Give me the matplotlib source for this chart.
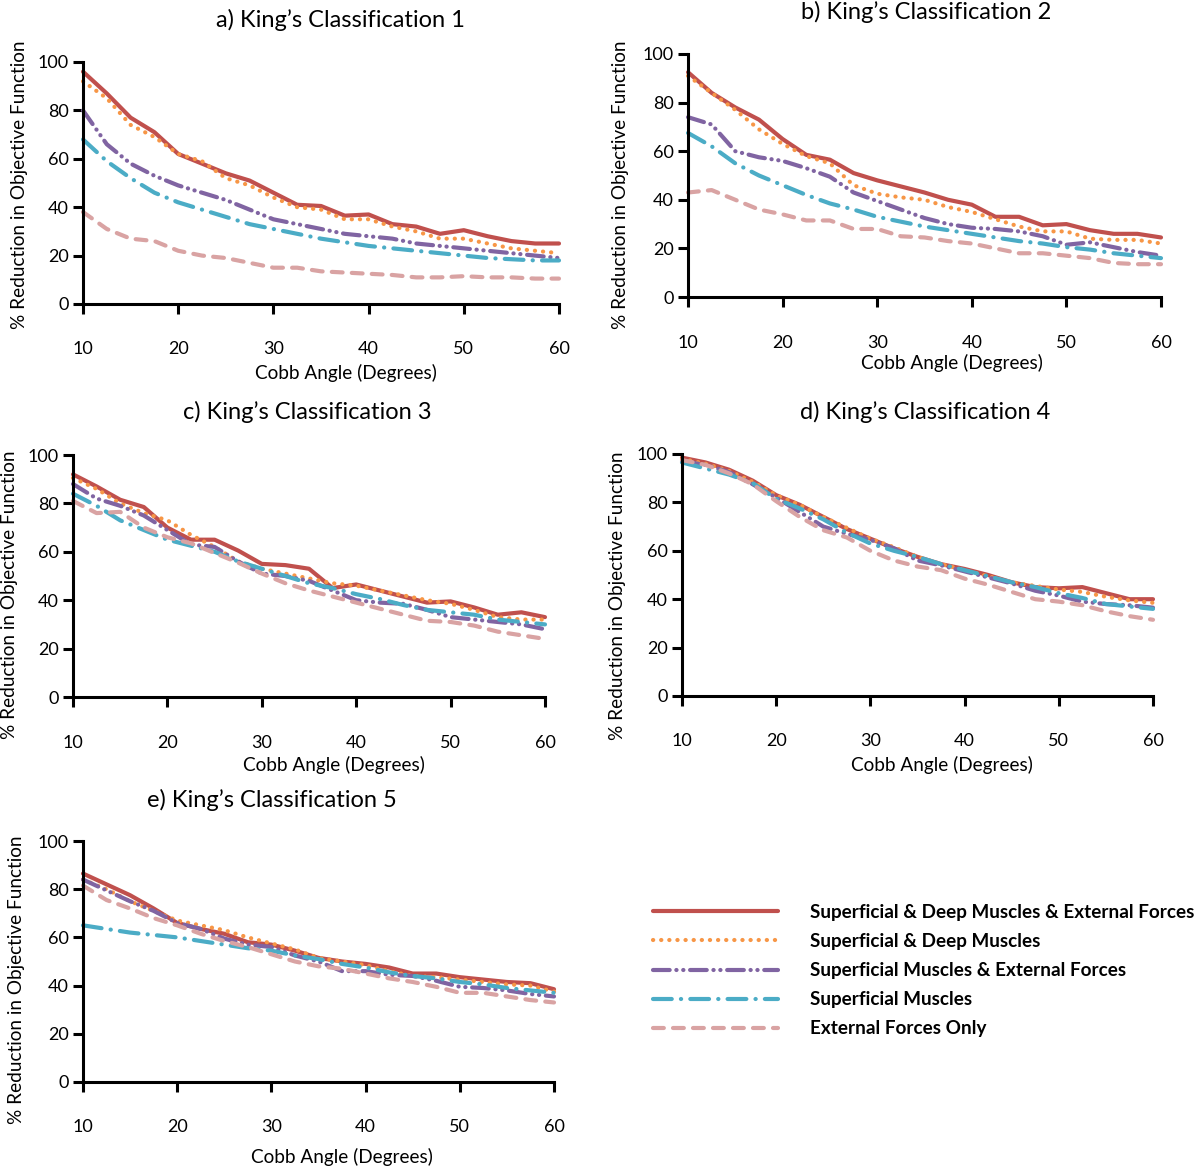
import numpy as np
import matplotlib.pyplot as plt

plt.rcParams['font.family'] = ['Lato', 'DejaVu Sans']

W, H = 1200, 1169

# Cobb angle grid (degrees)
cobb = np.arange(10, 60.1, 2.5)

labels = ['Superficial & Deep Muscles & External Forces',
          'Superficial & Deep Muscles',
          'Superficial Muscles & External Forces',
          'Superficial Muscles',
          'External Forces Only']

# a) King's Classification 1
a_sde = [96, 87, 77, 71, 62, 58, 54, 51, 46, 41, 40.5, 36.5, 37, 33, 32, 29, 30.5, 28, 26, 25, 25]
a_sd = [92, 85, 74, 69, 62, 59, 52, 49, 44, 40, 39, 35, 35, 32, 30, 27, 27, 25, 23, 22, 21]
a_se = [80, 66, 58, 53, 49, 46, 43, 39, 35, 33, 31, 29, 28, 27, 25, 24, 23, 22, 21, 20, 19]
a_s = [68, 59, 52, 46, 42, 39, 36, 33, 31, 29, 27, 25.5, 24, 23, 22, 21, 20, 19, 18.5, 18, 18]
a_e = [38, 31, 27, 26, 22, 20, 19, 17, 15, 15, 13.5, 13, 12.5, 12, 11, 11, 11.5, 11, 11, 10.5, 10.5]

# b) King's Classification 2
b_sde = [92.5, 84, 78, 73, 65, 58.5, 56.5, 51, 48, 45.5, 43, 40, 38, 33, 33, 29.5, 30, 27.5, 26, 26, 24.5]
b_sd = [91, 84, 77, 69, 63, 58, 55, 46, 42.5, 41, 40, 37, 35, 32, 29, 27, 27, 24, 23.5, 23.5, 22]
b_se = [74, 71, 60, 57.5, 56, 53, 49.5, 43, 39.5, 36, 32.5, 30, 28.5, 28, 27, 25, 21.5, 22.5, 20.5, 18.5, 17]
b_s = [67.5, 62, 55, 50, 46, 42, 38.5, 36, 33, 31, 29, 27.5, 26, 24.5, 23, 22, 20.5, 19.5, 18, 17, 16]
b_e = [43, 44, 40, 36, 34, 31.5, 31.5, 28, 28, 25, 24.5, 23, 22, 20, 18, 18, 17, 16, 14, 13.5, 13.5]

# c) King's Classification 3
c_sde = [92, 87, 81.5, 78.5, 70, 65, 65, 60.5, 55, 54.5, 53, 45, 46.5, 44, 41.5, 39, 39.5, 37, 34, 35, 33]
c_sd = [90.5, 86, 80, 76, 73, 67, 62, 56, 53, 51, 49, 47, 46, 44, 42, 40, 38.5, 36, 33, 32, 32]
c_se = [88, 82, 79, 75, 69, 63, 62, 56, 51, 50, 48, 44, 40, 39, 38.5, 36, 33, 32, 31, 30, 28]
c_s = [84, 79, 73, 69, 65, 62.5, 60, 56, 53, 50, 47, 45, 42.5, 40.5, 38, 36, 35, 34, 32, 31, 30]
c_e = [81, 76, 76.5, 70, 66, 63.5, 59.5, 55.5, 51, 47, 44, 41.5, 39, 36.5, 34, 31.5, 31, 29.5, 27, 25.5, 24]

# d) King's Classification 4
d_sde = [98.5, 96.5, 93.5, 89, 83, 79, 74, 69, 65, 61, 57.5, 54.5, 52.5, 50, 47, 45, 44.5, 45, 42.5, 40, 40]
d_sd = [98, 96, 93, 88.5, 83, 79, 74, 69.5, 65, 61.5, 57.5, 54.5, 52, 49.5, 47, 45.5, 44, 43, 41, 39.5, 38.5]
d_se = [97, 95.5, 92.5, 87.5, 82, 76, 70, 67, 64.5, 61, 56, 54, 51.5, 49, 46.5, 43.5, 41.5, 39, 38, 37.5, 36.5]
d_s = [96.5, 94, 91.5, 88, 81.5, 77.5, 73, 67.5, 63, 60, 57.5, 54.5, 52, 49.5, 47, 45, 42.5, 40.5, 38, 37, 36]
d_e = [97.5, 95.5, 92, 87.5, 80.5, 74, 68.5, 65.5, 60, 56, 53.5, 52, 48.5, 46, 43, 40, 39, 37.5, 35, 33, 31.5]

# e) King's Classification 5
e_sde = [86.5, 82, 77.5, 72, 66, 63.5, 61.5, 58, 57, 54.5, 51.5, 50, 49, 47.5, 45, 45, 43.5, 42.5, 41.5, 41, 38.5]
e_sd = [84, 80, 75, 71, 67, 65, 63, 60, 57.5, 55, 51.5, 50, 48.5, 46, 44, 43.5, 42.5, 41.5, 40.5, 40, 37.5]
e_se = [84, 79.5, 75, 71, 66, 63.5, 59.5, 57, 56, 52.5, 50, 46, 46, 44.5, 44, 42, 39.5, 39, 38, 36.5, 35.5]
e_s = [65, 63.5, 62, 61, 60, 58.5, 57, 55.5, 54.5, 52.5, 51, 49, 47.5, 45.5, 44, 43, 41.5, 40.5, 39, 38, 37]
e_e = [81.5, 75.5, 72, 68, 65, 61.5, 58.5, 56, 53, 50, 48, 47, 45, 43, 41.5, 39.5, 37, 37, 35.5, 34, 33]

panels = [
    ("a) King\u2019s Classification 1", [a_sde, a_sd, a_se, a_s, a_e]),
    ("b) King\u2019s Classification 2", [b_sde, b_sd, b_se, b_s, b_e]),
    ("c) King\u2019s Classification 3", [c_sde, c_sd, c_se, c_s, c_e]),
    ("d) King\u2019s Classification 4", [d_sde, d_sd, d_se, d_s, d_e]),
    ("e) King\u2019s Classification 5", [e_sde, e_sd, e_se, e_s, e_e]),
]

# pixel boxes: left, top, right, bottom ; title (x,y), xlabel (x,y), ylabel (x,y)
boxes = [
    ((83, 62, 559, 304), (340, 20), (346, 373), (20, 185)),
    ((688, 54, 1161, 297), (926, 12), (952, 363), (620, 185)),
    ((73, 455, 545, 697), (307, 412), (334, 765), (10, 595)),
    ((682, 454, 1153, 696), (925, 412), (942, 765), (617, 596)),
    ((83, 841, 554, 1082), (272, 800), (342, 1157), (17, 980)),
]

colors = ['#C0504D', '#F79646', '#8064A2', '#4BACC6', '#D9A3A3']
styles = ['-', (0, (0.05, 1.9)), (0, (4, 1.6, 0.05, 1.6, 0.05, 1.6)),
          (0, (4.5, 2.2, 0.05, 2.2)), (0, (2.6, 2.2))]
lw = 3.0

fig = plt.figure(figsize=(W / 100, H / 100), dpi=100)

handles = None
for (title, data), (box, tpos, xlpos, ylpos) in zip(panels, boxes):
    l, t, r, b = box
    ax = fig.add_axes([l / W, 1 - b / H, (r - l) / W, (b - t) / H])
    hs = []
    for vals, col, ls in zip(data, colors, styles):
        h, = ax.plot(cobb, vals, color=col, lw=lw, linestyle=ls,
                     dash_capstyle='round', solid_capstyle='round', clip_on=False)
        hs.append(h)
    if handles is None:
        handles = hs
    ax.set_xlim(10, 60)
    ax.set_ylim(0, 100)
    ax.set_xticks([10, 20, 30, 40, 50, 60])
    ax.set_yticks([0, 20, 40, 60, 80, 100])
    for s in ['top', 'right']:
        ax.spines[s].set_visible(False)
    for s in ['left', 'bottom']:
        ax.spines[s].set_linewidth(2.2)
    ax.tick_params(axis='both', direction='out', length=7, width=2.2, labelsize=13)
    ax.tick_params(axis='x', pad=20)
    ax.tick_params(axis='y', pad=3)
    fig.text(tpos[0] / W, 1 - tpos[1] / H, title, ha='center', va='center', fontsize=17)
    fig.text(xlpos[0] / W, 1 - xlpos[1] / H, 'Cobb Angle (Degrees)', ha='center', va='center', fontsize=13.7)
    fig.text(ylpos[0] / W, 1 - ylpos[1] / H, '% Reduction in Objective Function',
             ha='center', va='center', rotation=90, fontsize=13.7)

fig.legend(handles, labels, loc='upper left', bbox_to_anchor=(636 / W, 1 - 887 / H),
           frameon=False, handlelength=6.6, handletextpad=1.7, labelspacing=0.64,
           prop={'weight': 'bold', 'size': 13.6})

fig.savefig('out.png', dpi=100)
